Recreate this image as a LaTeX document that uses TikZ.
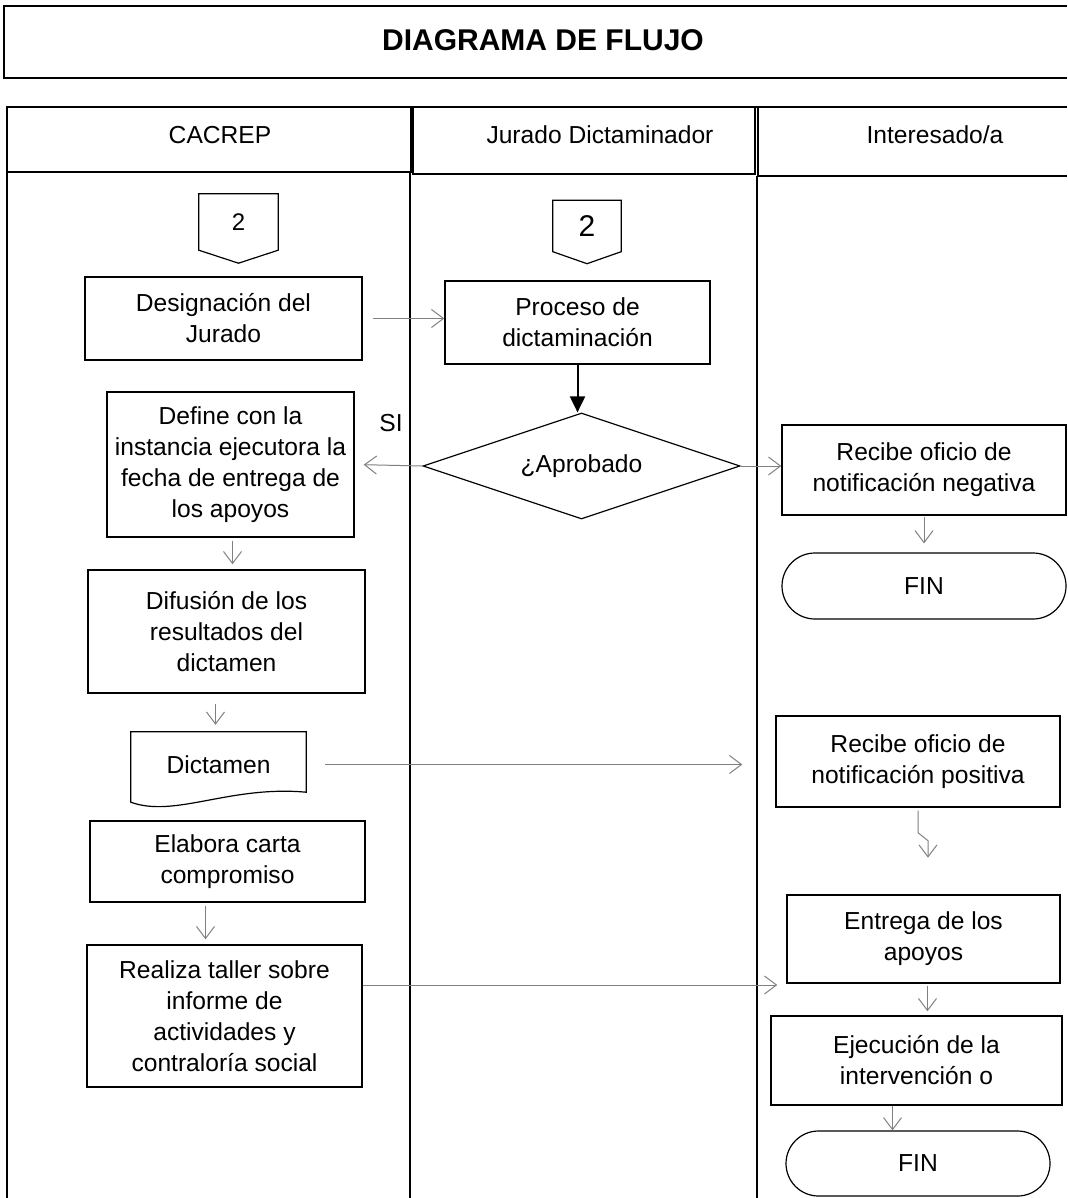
\documentclass[tikz,border=0pt]{standalone}
\usepackage{fontspec}
\setmainfont{Liberation Sans}
\usetikzlibrary{arrows.meta,shapes.geometric,shapes.misc,calc}
\newcommand{\myfnt}{\fontsize{24.6}{31}\selectfont}
\definecolor{arrowgray}{HTML}{808080}
\begin{document}
\begin{tikzpicture}[x=1pt,y=-1pt,
  box/.style={draw, line width=1.4pt, rectangle, inner sep=0pt, align=center, font=\myfnt},
  term/.style={draw, line width=1.2pt, rounded rectangle, inner sep=0pt, align=center, font=\myfnt},
  bare/.style={rectangle, inner sep=0pt, align=center, font=\myfnt},
  lane/.style={line width=1.8pt},
  garrow/.style={draw=arrowgray, line width=1pt, -{Straight Barb[length=12pt,width=18pt,line width=1pt]}},
  barrow/.style={draw=black, line width=2pt, -{Triangle[length=16pt,width=15pt]}}]
\useasboundingbox (0,0) rectangle (1067,1198);
% title
\draw[lane] (1067,6) -- (4,6) -- (4,78) -- (1067,78);
\node[font=\fontsize{30}{36}\selectfont\bfseries] (title) at (543,40) {DIAGRAMA DE FLUJO};
% lanes
\draw[lane] (7,107) -- (1067,107);
\draw[lane] (7,107) rectangle (411,172);
\draw[lane] (413,107) rectangle (755,174);
\draw[lane] (1067,176) -- (758,176) -- (758,107);
\draw[lane] (7,172) -- (7,1198);
\draw[lane] (410,172) -- (410,1198);
\draw[lane] (757,176) -- (757,1198);
\node[bare] (h1) at (220,135) {CACREP};
\node[bare] (h2) at (600,135) {Jurado Dictaminador};
\node[bare] (h3) at (935,135) {Interesado/a};
% off-page connectors
\node[bare, minimum width=79pt, minimum height=56pt, font=\fontsize{24}{28}\selectfont] (oc1) at (238.5,222) {2};
\draw[line width=1.2pt] (oc1.north west) -- (oc1.north east) -- (oc1.south east) -- ([yshift=-13pt]oc1.south) -- (oc1.south west) -- cycle;
\node[bare, minimum width=68pt, minimum height=51pt, font=\fontsize{30}{34}\selectfont] (oc2) at (587,226) {2};
\draw[line width=1.2pt] (oc2.north west) -- (oc2.north east) -- (oc2.south east) -- ([yshift=-12pt]oc2.south) -- (oc2.south west) -- cycle;
% nodes
\node[box, minimum width=277pt, minimum height=83pt] (desig) at (223.5,318.5) {Designación del\\Jurado};
\node[box, minimum width=265pt, minimum height=83pt] (proc) at (577.5,322.5) {Proceso de\\dictaminación};
\node[draw, line width=1.2pt, diamond, aspect=3, inner sep=0pt, minimum width=317pt, minimum height=106pt, font=\myfnt] (aprob) at (581.5,466) {¿Aprobado};
\node[font=\myfnt] (si) at (391,423) {SI};
\node[box, minimum width=247pt, minimum height=145pt] (define) at (230.5,464.5) {Define con la\\instancia ejecutora la\\fecha de entrega de\\los apoyos};
\node[box, minimum width=284pt, minimum height=90pt] (neg) at (924,470) {Recibe oficio de\\notificación negativa};
\node[term, minimum width=284pt, minimum height=66pt] (fin1) at (924,586) {FIN};
\node[box, minimum width=277pt, minimum height=123pt] (difus) at (226.5,631.5) {Difusión de los\\resultados del\\dictamen};
\node[bare, minimum width=175pt, minimum height=65pt] (dict) at (218.5,764.5) {Dictamen};
\draw[line width=1.2pt] (dict.north west) -- (dict.north east) -- ([yshift=5pt]dict.south east)
  .. controls ($(dict.south west)+(99,-12)$) and ($(dict.south west)+(44,21)$) .. ([yshift=-5pt]dict.south west) -- cycle;
\node[box, minimum width=284pt, minimum height=91pt] (pos) at (918,761.5) {Recibe oficio de\\notificación positiva};
\node[box, minimum width=275pt, minimum height=81pt] (elab) at (227.5,861.5) {Elabora carta\\compromiso};
\node[box, minimum width=275pt, minimum height=142pt] (realiza) at (224.5,1016) {Realiza taller sobre\\informe de\\actividades y\\contraloría social};
\node[box, minimum width=273pt, minimum height=88pt] (entrega) at (923.5,939) {Entrega de los\\apoyos};
\node[box, minimum width=291pt, minimum height=89pt] (ejec) at (916.5,1060.5) {Ejecución de la\\intervención o};
\node[term, minimum width=264pt, minimum height=65pt] (fin2) at (918,1163.5) {FIN};
% connectors
\draw[garrow, shorten <=10pt] (desig.east) -- (desig.east -| proc.west);
\draw[barrow] (proc.south) -- (proc.south |- aprob.north);
\draw[garrow, shorten >=9pt] (aprob.west) -- (define.east);
\draw[garrow] (aprob.east) -- (aprob.east -| neg.west);
\draw[garrow, shorten <=1pt, shorten >=9pt] (neg.south) -- (neg.south |- fin1.north);
\draw[garrow, shorten <=3pt, shorten >=5pt] ([xshift=2pt]define.south) -- ([xshift=2pt]define.south |- difus.north);
\draw[garrow, shorten <=10pt, shorten >=7pt] ([xshift=-11pt]difus.south) -- ([xshift=-11pt]difus.south |- dict.north);
\draw[garrow, shorten <=19pt, shorten >=33pt] (dict.east) -- (dict.east -| pos.west);
\draw[garrow, shorten <=3pt, shorten >=5pt] ([xshift=-22pt]elab.south) -- ([xshift=-22pt]elab.south |- realiza.north);
\draw[garrow, shorten >=9pt] ([yshift=31pt]realiza.east) -- ([yshift=31pt]realiza.east -| entrega.west);
\draw[garrow] ([yshift=-3pt]pos.south) -- ++(0,22) -- ++(10,8) -- ++(0,17);
\draw[garrow, shorten <=2pt, shorten >=4pt] ([xshift=4pt]entrega.south) -- ([xshift=4pt]entrega.south |- ejec.north);
\draw[garrow] ([xshift=-24pt]ejec.south) -- ([xshift=-24pt]ejec.south |- fin2.north);
\end{tikzpicture}
\end{document}
